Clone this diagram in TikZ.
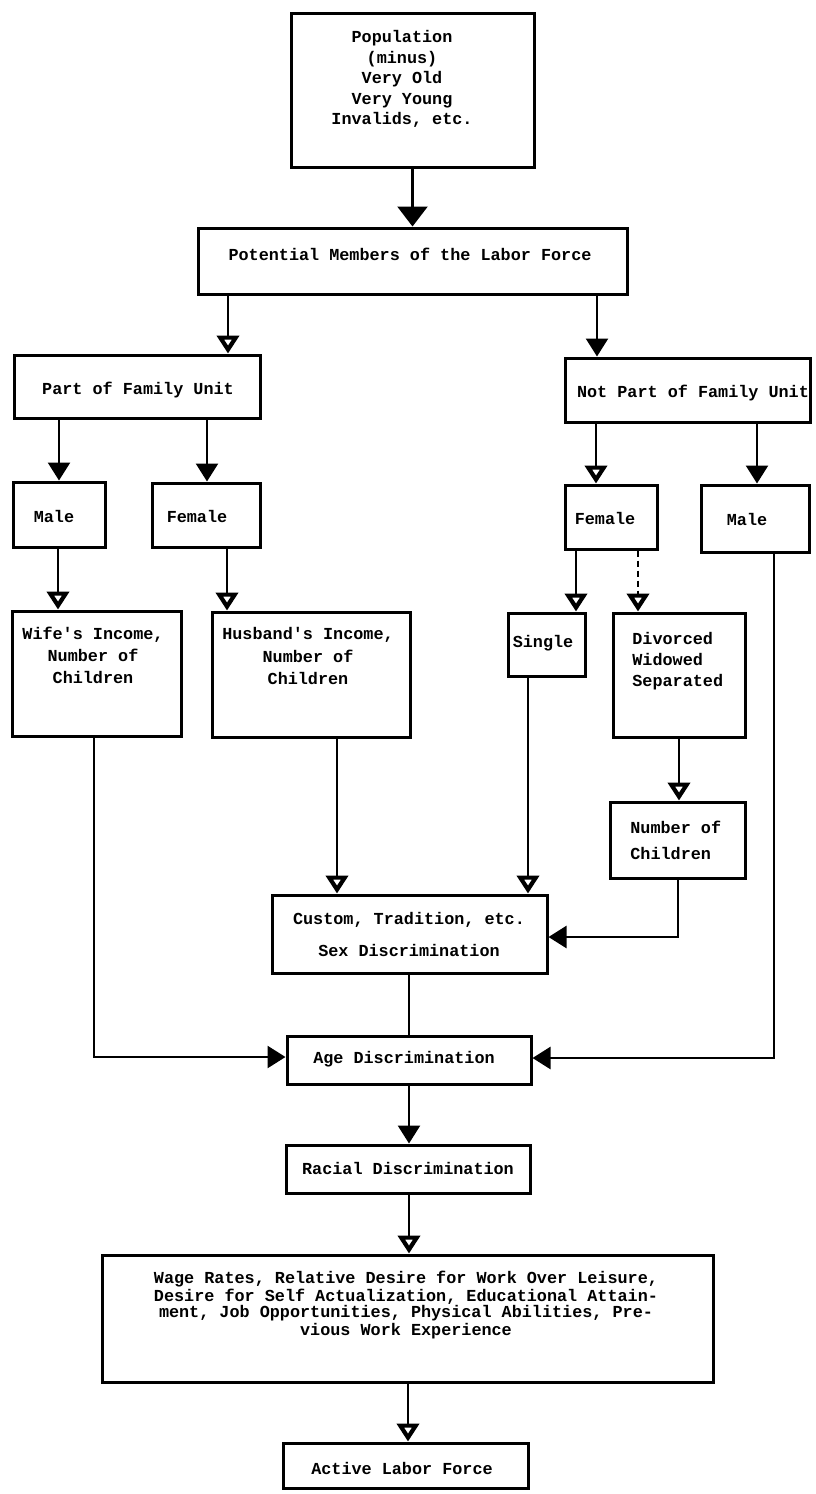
\documentclass[tikz,border=0pt]{standalone}
\usepackage{fontspec}
\setmonofont{Liberation Mono}
\usetikzlibrary{arrows.meta,fit}
\newcommand\twfont{\ttfamily\bfseries}
\begin{document}
\begin{tikzpicture}[x=0.5pt,y=-0.5pt,
  box/.style={draw, line width=1.5pt, inner sep=0pt, fit={#1}},
  lbl/.style={font=\twfont\fontsize{8.4}{#1}\selectfont, align=center, inner sep=0pt},
  lbl/.default=10.5pt,
  con/.style={line width=1.25pt},
  fa/.style={con, -{Triangle[length=9pt,width=11pt]}},
  fab/.style={con, -{Triangle[length=10pt,width=15pt]}},
  oa/.style={con, -{Triangle[open,length=9pt,width=11pt,line width=2.1pt]}},
  dsh/.style={dash pattern=on 3pt off 2pt}]
\fill[white] (0,0) rectangle (815,1494);
\useasboundingbox (0,0) rectangle (815,1494);

% boxes
\node[box={(291,13) (534,167)}] (pop) {};
\node[box={(198,228) (627,294)}] (pot) {};
\node[box={(14,355) (260,418)}] (part) {};
\node[box={(565,358) (810,422)}] (notpart) {};
\node[box={(13,482) (105,547)}] (male) {};
\node[box={(152,483) (260,547)}] (female) {};
\node[box={(565,485) (657,549)}] (female2) {};
\node[box={(701,485) (809,552)}] (male2) {};
\node[box={(12,611) (181,736)}] (wife) {};
\node[box={(212,612) (410,737)}] (husband) {};
\node[box={(508,613) (585,676)}] (single) {};
\node[box={(613,613) (745,737)}] (divorced) {};
\node[box={(610,802) (745,878)}] (number) {};
\node[box={(272,895) (547,973)}] (custom) {};
\node[box={(287,1036) (531,1084)}] (age) {};
\node[box={(286,1145) (530,1193)}] (racial) {};
\node[box={(102,1255) (713,1382)}] (wage) {};
\node[box={(283,1443) (528,1488)}] (active) {};

% texts
\node[lbl=10.25pt] (pop-t) at (402,79) {Population\\(minus)\\Very Old\\Very Young\\Invalids, etc.};
\node[lbl] (pot-t) at (410,254) {Potential Members of the Labor Force};
\node[lbl] (part-t) at (138,390) {Part of Family Unit};
\node[lbl] (notpart-t) at (693,393) {Not Part of Family Unit};
\node[lbl] (male-t) at (54,516) {Male};
\node[lbl] (female-t) at (197,516) {Female};
\node[lbl] (female2-t) at (605,518) {Female};
\node[lbl] (male2-t) at (747,519) {Male};
\node[lbl=11pt] (wife-t) at (93,655) {Wife's Income,\\Number of\\Children};
\node[lbl=11.2pt] (husband-t) at (308,656) {Husband's Income,\\Number of\\Children};
\node[lbl] (single-t) at (543,643) {Single};
\node[lbl=10.5pt, align=left, anchor=west] (divorced-t) at (632,661) {Divorced\\Widowed\\Separated};
\node[lbl=13pt, align=left, anchor=west] (number-t) at (630,840) {Number of\\Children};
\node[lbl=16pt] (custom-t) at (409,934) {Custom, Tradition, etc.\\Sex Discrimination};
\node[lbl] (age-t) at (404,1059) {Age Discrimination};
\node[lbl] (racial-t) at (408,1168) {Racial Discrimination};
\node[lbl=7.8pt] (wage-t) at (406,1305) {Wage Rates, Relative Desire for Work Over Leisure,\\Desire for Self Actualization, Educational Attain-\\ment, Job Opportunities, Physical Abilities, Pre-\\vious Work Experience};
\node[lbl] (active-t) at (402,1468) {Active Labor Force};

% connectors
\draw[fab] (pop.south) -- (pot.north);
\draw[oa] (pot.south -| 228,0) -- (part.north -| 228,0);
\draw[fa] (pot.south -| 597,0) -- (notpart.north -| 597,0);
\draw[fa] (part.south -| 59,0) -- (male.north -| 59,0);
\draw[fa] (part.south -| 207,0) -- (female.north -| 207,0);
\draw[oa] (notpart.south -| 596,0) -- (female2.north -| 596,0);
\draw[fa] (notpart.south -| 757,0) -- (male2.north -| 757,0);
\draw[oa] (male.south -| 58,0) -- (wife.north -| 58,0);
\draw[oa] (female.south -| 227,0) -- (husband.north -| 227,0);
\draw[oa] (female2.south -| 576,0) -- (single.north -| 576,0);
\draw[oa, dsh] (female2.south -| 638,0) -- (divorced.north -| 638,0);
\draw[oa] (divorced.south -| 679,0) -- (number.north -| 679,0);
\draw[oa] (husband.south -| 337,0) -- (custom.north -| 337,0);
\draw[oa] (single.south -| 528,0) -- (custom.north -| 528,0);
\draw[fa] (number.south -| 678,0) |- (custom.east |- 0,937);
\draw[con] (custom.south -| 409,0) -- (age.north -| 409,0);
\draw[fa] (wife.south -| 94,0) |- (age.west |- 0,1057);
\draw[fa] (male2.south -| 774,0) |- (age.east |- 0,1058);
\draw[fa] (age.south -| 409,0) -- (racial.north -| 409,0);
\draw[oa] (racial.south -| 409,0) -- (wage.north -| 409,0);
\draw[oa] (wage.south -| 408,0) -- (active.north -| 408,0);
\end{tikzpicture}
\end{document}
